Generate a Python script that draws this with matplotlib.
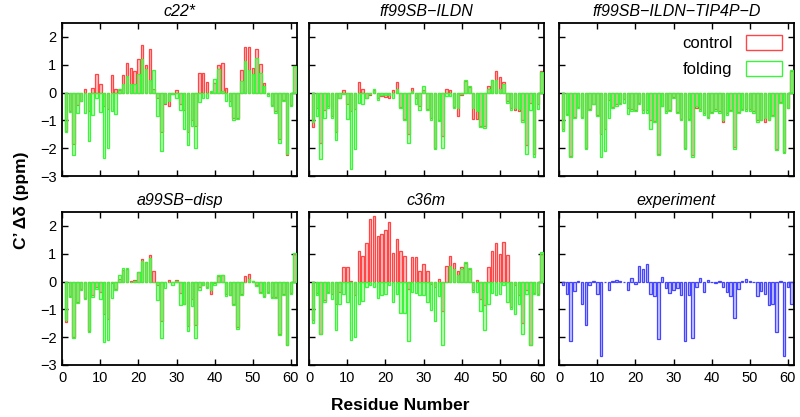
import numpy as np
import matplotlib
matplotlib.use("Agg")
import matplotlib.pyplot as plt
from matplotlib.patches import Patch
from matplotlib.ticker import MultipleLocator

plt.rcParams['font.family'] = ['Liberation Sans', 'DejaVu Sans']

residues = list(range(1, 62))

c22_control = [-1.37, -0.66, -1.85, -0.45, -0.30, 0.12, -0.68, 0.18, 0.68, 0.30,
               -0.48, -0.60, 0.62, 0.12, 0.08, 0.62, 1.07, 0.90, 0.78, 1.20,
               1.70, 1.00, 1.55, 0.12, -0.18, -1.43, -0.40, -0.48, -0.06, 0.08,
               -0.40, -0.63, -1.43, -1.00, -1.20, 0.72, 0.72, 0.38, 0.02, 0.36,
               1.00, 1.07, 0.18, -0.30, -0.90, -0.90, 0.80, 1.63, 1.63, 0.90,
               1.55, 1.04, 0.36, -0.05, -0.45, -0.66, -1.67, -0.28, -2.26, -0.45,
               0.97]
c22_folding = [-1.43, -0.70, -2.26, -0.75, -0.30, -0.75, -1.73, -0.80, -0.20, -0.70,
               -2.35, -2.00, -0.65, -0.78, 0.12, 0.30, 0.60, 0.30, 0.32, 0.66,
               1.20, 0.85, 0.44, 0.80, -0.83, -2.10, -0.36, -0.32, -0.05, -0.20,
               -0.63, -1.30, -1.90, -1.20, -2.00, -0.35, -0.20, -0.20, 0.06, 0.50,
               0.83, 0.06, -0.32, -0.50, -1.00, -0.95, 0.42, 1.13, 0.80, 0.68,
               1.23, 0.72, 0.24, -0.12, -0.50, -0.72, -1.83, -0.30, -2.20, -0.48,
               0.96]

ildn_control = [-1.23, -0.56, -1.80, -0.63, -0.50, -0.86, -1.43, -0.20, 0.10, -0.40,
                -0.65, -0.60, 0.38, 0.12, -0.18, -0.08, 0.08, -0.20, -0.12, -0.15,
                -0.20, 0.10, 0.38, -0.52, -0.96, -1.50, 0.18, -0.20, -0.50, 0.10,
                -0.60, -0.90, -2.00, -1.00, -1.55, 0.12, 0.10, -0.52, -0.83, -0.08,
                0.42, 0.20, -0.95, -0.95, -1.20, -1.20, 0.24, 0.44, 0.78, 0.56,
                0.39, -0.30, -0.56, -0.63, -0.65, -1.00, -1.90, -0.36, -2.20, -0.40,
                0.77]
ildn_folding = [-1.07, -0.83, -2.38, -0.90, -0.56, -0.90, -1.70, -0.20, -0.05, -0.95,
                -2.74, -2.02, -0.36, -0.40, -0.20, -0.05, 0.12, -0.27, -0.08, -0.10,
                -0.10, -0.20, 0.12, -0.54, -0.98, -1.82, 0.04, -0.40, -0.62, 0.24,
                -0.63, -1.00, -2.02, -1.04, -2.00, -0.12, -0.12, -0.54, -0.54, -0.04,
                0.44, 0.24, -0.54, -0.66, -1.23, -1.27, 0.12, 0.44, 0.44, 0.12,
                0.30, -0.36, -0.63, -0.56, -0.60, -1.07, -2.20, -0.63, -2.32, -0.60,
                0.74]

tip4pd_control = [-1.30, -0.77, -2.28, -0.88, -0.52, -0.88, -2.00, -0.60, -0.40, -0.80,
                  -1.49, -1.30, -0.28, -0.52, -0.42, -0.38, -0.24, -0.56, -0.60, -0.63,
                  -0.36, -0.63, -0.63, -1.00, -1.04, -2.22, -0.48, -0.66, -0.63, -0.16,
                  -0.70, -0.96, -2.00, -0.96, -2.26, -0.56, -0.60, -0.75, -0.88, -0.70,
                  -0.60, -0.68, -1.05, -0.75, -0.62, -1.96, -0.70, -0.60, -0.60, -0.60,
                  -0.66, -1.00, -0.99, -1.07, -0.97, -0.82, -2.02, -0.34, -2.14, -0.54,
                  0.77]
tip4pd_folding = [-1.37, -0.80, -2.30, -0.90, -0.54, -0.90, -2.02, -0.63, -0.42, -0.83,
                  -2.32, -2.10, -0.90, -0.56, -0.48, -0.40, -0.36, -0.78, -0.68, -0.65,
                  -0.40, -0.75, -0.75, -1.30, -1.07, -2.26, -0.50, -0.75, -0.65, -0.18,
                  -0.72, -0.99, -2.02, -0.99, -2.30, -0.50, -0.65, -0.80, -0.92, -0.72,
                  -0.68, -0.75, -0.99, -0.80, -0.65, -2.02, -0.72, -0.63, -0.65, -0.65,
                  -0.75, -1.05, -0.99, -0.90, -0.99, -0.85, -2.06, -0.36, -2.18, -0.56,
                  0.80]

disp_control = [-1.45, -0.52, -2.00, -0.74, -0.28, -0.60, -1.78, -0.50, -0.20, -0.36,
                -1.15, -1.33, -0.05, -0.25, 0.10, 0.40, 0.46, 0.03, 0.04, 0.33,
                0.80, 0.71, 0.96, 0.39, -0.14, -1.43, 0.00, 0.04, -0.02, 0.04,
                -0.40, -0.80, -1.60, -0.62, -1.57, -0.20, -0.12, -0.20, -0.44, -0.05,
                0.20, 0.22, -0.45, -0.48, -0.80, -1.65, -0.45, 0.19, 0.27, 0.02,
                -0.12, -0.36, -0.52, -0.36, -0.56, -0.56, -1.87, -0.44, -2.27, -0.40,
                1.00]
disp_folding = [-1.40, -0.56, -2.04, -0.76, -0.32, -0.64, -1.81, -0.56, -0.26, -0.64,
                -2.17, -2.10, -0.60, -0.30, 0.24, 0.50, 0.48, 0.00, 0.02, 0.33,
                0.75, 0.70, 0.83, -0.02, -0.68, -2.04, -0.24, -0.03, -0.14, 0.02,
                -0.86, -0.80, -1.79, -0.88, -2.04, -0.32, -0.12, -0.24, -0.32, -0.12,
                0.25, 0.25, -0.52, -0.50, -0.86, -1.71, -0.48, -0.02, 0.10, 0.02,
                -0.17, -0.40, -0.56, -0.40, -0.60, -0.60, -1.93, -0.48, -2.29, -0.44,
                1.01]

c36m_control = [-1.40, -0.40, -1.87, -0.68, -0.36, -0.44, -0.80, -0.36, 0.51, 0.51,
                0.02, -0.48, 1.10, 0.93, 1.37, 2.24, 2.36, 1.64, 1.70, 1.86,
                2.14, 1.02, 1.52, 1.10, 0.93, -0.26, 0.90, 0.90, 0.39, 0.63,
                0.39, -0.08, -0.20, 0.10, -1.07, 0.57, 0.93, 0.67, 0.39, 0.51,
                0.68, 0.46, -0.30, 0.07, -0.64, -0.85, 0.51, 1.10, 1.40, 0.99,
                1.42, 0.95, -0.90, -0.14, -0.48, -1.50, -0.32, -2.27, -0.40, -0.44,
                1.00]
c36m_folding = [-1.48, -0.48, -1.90, -0.74, -0.40, -0.64, -1.75, -0.80, -0.44, -0.74,
                -2.10, -1.99, -0.80, -0.71, -0.20, -0.14, -0.20, -0.60, -0.48, -0.44,
                -0.14, -0.74, -0.44, -1.12, -1.12, -2.14, -0.36, -0.40, -0.50, -0.48,
                -0.74, -1.04, -1.43, -0.52, -2.29, 0.00, 0.57, 0.45, 0.24, 0.45,
                0.71, 0.48, -0.36, -0.36, -1.07, -1.75, -0.80, -0.40, -0.48, -0.44,
                -0.14, -0.74, -0.98, -1.15, -0.80, -1.87, -0.44, -2.29, -0.44, -0.48,
                1.05]

experiment = [-0.12, -0.45, -2.14, -0.33, 0.01, -0.80, -1.55, -0.14, 0.01, -0.45,
              -2.68, 0.00, -0.30, 0.03, 0.05, 0.03, 0.00, -0.30, 0.12, -0.08,
              0.55, 0.45, 0.63, -0.45, -0.52, -2.05, 0.17, -0.22, -0.42, -0.30,
              -0.22, -0.48, -2.14, -0.50, -2.02, -0.20, 0.14, -0.38, 0.05, -0.03,
              -0.05, 0.03, -0.20, -0.38, -0.52, -1.30, -0.26, 0.01, 0.10, 0.02,
              0.00, -0.52, -0.35, -0.45, -0.86, -0.82, -1.80, 0.03, -2.68, -0.20,
              -0.80]

titles = ["c22*", "ff99SB\u2212ILDN", "ff99SB\u2212ILDN\u2212TIP4P\u2212D",
          "a99SB\u2212disp", "c36m", "experiment"]
series = [(c22_control, c22_folding), (ildn_control, ildn_folding),
          (tip4pd_control, tip4pd_folding), (disp_control, disp_folding),
          (c36m_control, c36m_folding), None]

W, H = 800, 417
fig = plt.figure(figsize=(W / 100, H / 100), dpi=100)

col_left = [62, 309, 559]
row_top = [23, 212]
pw, ph = 235, 153

ctrl_face = (1.0, 0.55, 0.55, 0.55)
ctrl_edge = (1.0, 0.27, 0.27)
fold_face = (0.45, 0.92, 0.35, 0.42)
fold_edge = (0.22, 0.97, 0.22)
exp_face = (0.6, 0.6, 1.0, 0.55)
exp_edge = (0.27, 0.27, 1.0)
bw = 0.65

axes = []
for k in range(6):
    r, c = divmod(k, 3)
    left = col_left[c] / W
    bottom = 1 - (row_top[r] + ph) / H
    ax = fig.add_axes([left, bottom, pw / W, ph / H])
    axes.append(ax)
    if series[k] is not None:
        ctrl, fold = series[k]
        ax.bar(residues, ctrl, width=bw, facecolor=ctrl_face, edgecolor=ctrl_edge,
               linewidth=0.9, zorder=2)
        ax.bar(residues, fold, width=bw, facecolor=fold_face, edgecolor=fold_edge,
               linewidth=0.9, zorder=3)
    else:
        ax.bar(residues, experiment, width=bw, facecolor=exp_face, edgecolor=exp_edge,
               linewidth=0.9, zorder=2)
    ax.set_xlim(-0.05, 61.6)
    ax.set_ylim(-3, 2.5)
    ax.xaxis.set_major_locator(MultipleLocator(10))
    ax.yaxis.set_major_locator(MultipleLocator(1))
    ax.tick_params(direction='in', top=True, right=True, length=4, width=1,
                   labelsize=10.5, pad=4)
    for s in ax.spines.values():
        s.set_linewidth(1.3)
    if r == 0:
        ax.tick_params(labelbottom=False)
    if c != 0:
        ax.tick_params(labelleft=False)
    ax.set_title(titles[k], fontstyle='italic', fontsize=11.5, pad=5)

handles = [Patch(facecolor='white', edgecolor=ctrl_edge, linewidth=1.0, label='control'),
           Patch(facecolor='white', edgecolor=fold_edge, linewidth=1.0, label='folding')]
axes[2].legend(handles=handles, loc='upper right', frameon=False, markerfirst=False,
               fontsize=12, handlelength=2.2, handleheight=1.0, borderaxespad=0.3,
               labelspacing=0.6)

fig.text(0.5, 1 - 406 / H, "Residue Number", ha='center', va='center',
         fontsize=12.5, fontweight='bold')
fig.text(22 / W, 1 - 200 / H, "C\u2019 \u0394\u03b4 (ppm)", ha='center', va='center',
         rotation=90, fontsize=12.5, fontweight='bold')

fig.savefig("out.png", dpi=100)
